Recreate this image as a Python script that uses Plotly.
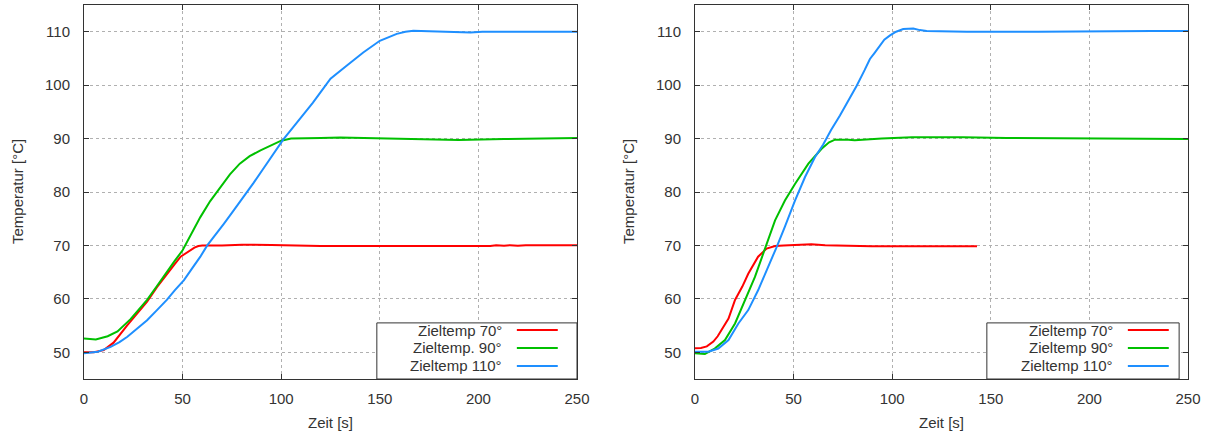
import plotly.graph_objects as go

# ---------------- data ----------------
# Left panel
left_t70 = [0, 5, 10, 15, 22, 27, 32, 37, 42, 46, 49, 52, 54, 56, 58, 60, 70, 80, 95, 105, 120, 150, 200, 206, 209, 213, 216, 220, 224, 227, 250]
left_T70 = [50.0, 50.0, 50.4, 51.8, 55.1, 57.3, 59.5, 62.2, 64.7, 66.5, 67.9, 68.7, 69.2, 69.6, 69.9, 70.0, 70.0, 70.15, 70.1, 70.0, 69.9, 69.9, 69.9, 69.9, 70.05, 69.95, 70.05, 69.95, 70.05, 70.05, 70.05]

left_t90 = [0, 6, 12, 17, 23.6, 28, 32, 37, 42, 46, 50, 55, 59, 64, 69, 74, 79, 84, 89.5, 95, 100, 105, 110, 120, 130, 145, 165, 190, 213, 237, 250]
left_T90 = [52.6, 52.4, 53.0, 53.9, 56.2, 58.0, 59.8, 62.4, 65.1, 67.1, 69.1, 72.5, 75.3, 78.3, 80.9, 83.3, 85.3, 86.7, 87.8, 88.8, 89.6, 90.0, 90.0, 90.1, 90.2, 90.1, 89.9, 89.75, 89.9, 90.1, 90.1]

left_t110 = [0, 7, 13.5, 18, 22, 27, 32, 37, 42, 46, 50.7, 55, 59, 62.5, 67, 71, 76, 81, 86, 91, 96, 101, 106, 111, 116, 120, 125, 133, 141.6, 150, 158.6, 163, 167, 175, 183, 196, 202, 250]
left_T110 = [49.8, 50.1, 51.0, 51.9, 52.9, 54.4, 56.0, 57.9, 59.8, 61.6, 63.5, 65.8, 67.9, 70.0, 72.1, 74.1, 76.6, 79.1, 81.7, 84.4, 87.1, 89.8, 92.1, 94.3, 96.7, 98.7, 101.2, 103.6, 106.1, 108.3, 109.6, 110.0, 110.2, 110.1, 110.0, 109.85, 110.0, 110.0]

# Right panel
right_t70 = [0, 3, 6, 9.3, 11.5, 13.5, 17, 20.3, 24, 27, 32, 36.3, 38.5, 40.6, 45, 50.7, 59, 66, 89.6, 143]
right_T70 = [50.75, 50.8, 51.1, 52.0, 53.0, 54.2, 56.3, 59.8, 62.3, 64.7, 67.9, 69.4, 69.7, 69.9, 70.0, 70.05, 70.2, 70.05, 69.85, 69.85]

right_t90 = [0, 5, 10, 15.2, 20.3, 25.4, 30.4, 35.5, 40.6, 45.6, 50.7, 57.5, 64.2, 68, 71, 77.8, 81, 94.7, 110, 136, 158, 250]
right_T90 = [49.8, 49.7, 50.7, 52.3, 55.4, 59.8, 64.1, 69.4, 74.7, 78.4, 81.5, 85.3, 88.1, 89.3, 89.8, 89.8, 89.7, 90.0, 90.25, 90.25, 90.1, 89.9]

right_t110 = [0, 6.8, 11.8, 17, 22, 27, 32, 37.2, 41.4, 45.6, 50.7, 55.8, 60.8, 65, 69, 73.5, 78, 82, 86, 88.7, 91, 93.8, 96, 98.9, 102, 105.6, 108, 110.7, 114, 117.5, 137.8, 171, 174, 231.6, 250]
right_T110 = [50.1, 50.1, 50.7, 52.3, 55.4, 57.9, 61.6, 66.0, 69.7, 73.5, 78.4, 82.8, 86.5, 88.9, 91.6, 94.3, 97.2, 99.9, 102.8, 104.9, 106.0, 107.4, 108.5, 109.3, 110.0, 110.5, 110.6, 110.6, 110.3, 110.15, 110.0, 109.9, 110.0, 110.15, 110.15]

left_names = ["Zieltemp 70°", "Zieltemp. 90°", "Zieltemp 110°"]
right_names = ["Zieltemp 70°", "Zieltemp 90°", "Zieltemp 110°"]
colors = ["#ff0000", "#00c000", "#1e8fff"]

x_ticks = [0, 50, 100, 150, 200, 250]
y_ticks = [50, 60, 70, 80, 90, 100, 110]
x_title = "Zeit [s]"
y_title = "Temperatur [°C]"

# ---------------- figure ----------------
W, H = 1205, 434
FONT = "Liberation Sans, Arial, sans-serif"
TXT = "#333333"

fig = go.Figure()

panels = [
    ("x", "y", [(left_t70, left_T70), (left_t90, left_T90), (left_t110, left_T110)]),
    ("x2", "y2", [(right_t70, right_T70), (right_t90, right_T90), (right_t110, right_T110)]),
]
for xa, ya, series in panels:
    for (t, T), c in zip(series, colors):
        fig.add_trace(go.Scatter(x=t, y=T, mode="lines", xaxis=xa, yaxis=ya,
                                 line=dict(color=c, width=2), showlegend=False,
                                 hoverinfo="skip"))

left_dom = [84 / W, 577 / W]
right_dom = [695 / W, 1188 / W]
y_dom = [1 - 379 / H, 1 - 5 / H]

axis_common = dict(
    showline=True, linecolor="#333333", linewidth=1, mirror="allticks",
    ticks="inside", ticklen=5, tickcolor="#333333", tickwidth=1,
    showgrid=True, gridcolor="#b0b0b0", griddash="dot", gridwidth=1,
    zeroline=False, automargin=False,
    tickfont=dict(family=FONT, size=15, color=TXT),
)

fig.update_layout(
    width=W, height=H,
    margin=dict(l=0, r=0, t=0, b=0, autoexpand=False),
    paper_bgcolor="white", plot_bgcolor="white",
    showlegend=False,
    xaxis=dict(domain=left_dom, range=[0, 250], tickvals=x_ticks, anchor="y",
               ticklabelstandoff=6, **axis_common),
    yaxis=dict(domain=y_dom, range=[45, 115], tickvals=y_ticks, anchor="x",
               ticklabelstandoff=10, **axis_common),
    xaxis2=dict(domain=right_dom, range=[0, 250], tickvals=x_ticks, anchor="y2",
                ticklabelstandoff=6, **axis_common),
    yaxis2=dict(domain=y_dom, range=[45, 115], tickvals=y_ticks, anchor="x2",
                ticklabelstandoff=10, **axis_common),
)

annotations = []
shapes = []

# axis titles
for dom in (left_dom, right_dom):
    annotations.append(dict(text=x_title, xref="paper", yref="paper",
                            x=(dom[0] + dom[1]) / 2, y=1 - 422 / H,
                            showarrow=False, xanchor="center", yanchor="middle",
                            font=dict(family=FONT, size=15, color=TXT)))
for xpx in (17, 628):
    annotations.append(dict(text=y_title, xref="paper", yref="paper",
                            x=xpx / W, y=(y_dom[0] + y_dom[1]) / 2, textangle=-90,
                            showarrow=False, xanchor="center", yanchor="middle",
                            font=dict(family=FONT, size=15, color=TXT)))

# custom gnuplot-style legends (text left, line sample right)
legend_specs = [
    ("x domain", "y domain", left_names, 0.594, 1.0),
    ("x2 domain", "y2 domain", right_names, 0.592, 0.982),
]
row_y = [0.131, 0.083, 0.035]
for xr, yr, names, bx0, bx1 in legend_specs:
    shapes.append(dict(type="rect", xref=xr, yref=yr, x0=bx0, x1=bx1, y0=0, y1=0.15,
                       line=dict(color="#333333", width=1), fillcolor="white", layer="above"))
    for name, c, ry in zip(names, colors, row_y):
        annotations.append(dict(text=name, xref=xr, yref=yr, x=0.851, y=ry,
                                showarrow=False, xanchor="right", yanchor="middle",
                                font=dict(family=FONT, size=15, color=TXT)))
        shapes.append(dict(type="line", xref=xr, yref=yr, x0=0.878, x1=0.961, y0=ry, y1=ry,
                           line=dict(color=c, width=2), layer="above"))

fig.update_layout(annotations=annotations, shapes=shapes)
fig.write_html("out.html")
